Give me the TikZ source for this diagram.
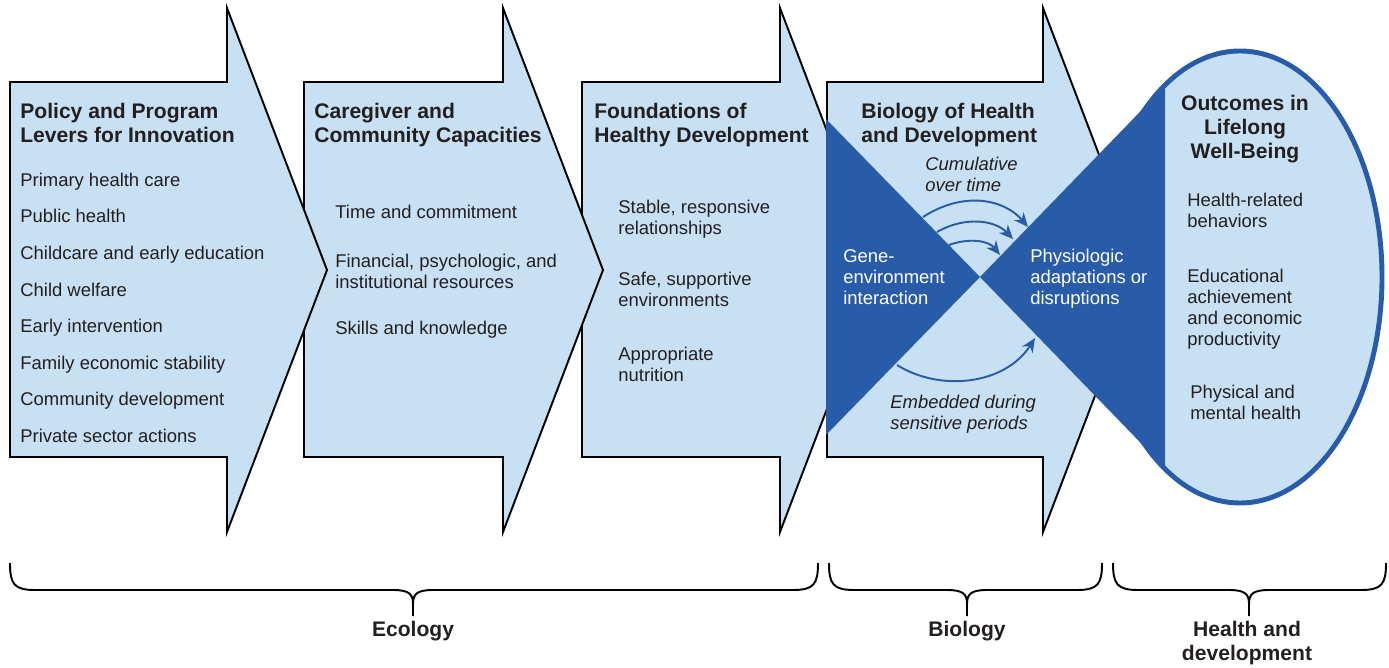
\documentclass[tikz,border=0pt]{standalone}
\usepackage{fontspec}
\setmainfont{Liberation Sans}
\usetikzlibrary{arrows.meta}
\definecolor{bioblue}{HTML}{285CA8}
\definecolor{biosoft}{HTML}{C8E0F3}
\definecolor{bioink}{HTML}{231F20}

\begin{document}
\begin{tikzpicture}[x=0.02cm, y=-0.02cm,
  chevron/.style={draw=black, fill=biosoft, line width=1.1pt},
  headtext/.style={anchor=north west, inner sep=0pt, align=left, text=bioink, font=\fontsize{12}{13.7}\selectfont\bfseries},
  itemtext/.style={anchor=north west, inner sep=0pt, align=left, text=bioink, font=\fontsize{10.5}{11.95}\selectfont},
  lineitem/.style={itemtext, anchor=base west},
  notetext/.style={itemtext, font=\fontsize{10.5}{11.95}\selectfont\itshape},
  wedgetext/.style={itemtext, text=white},
  curvearrow/.style={draw=bioblue, line width=1.1pt, -{Stealth[length=8pt, width=7pt, inset=2.5pt]}},
  bracepath/.style={draw=black, line width=1.1pt},
  bracelabel/.style={inner sep=0pt, align=center, text=bioink, font=\fontsize{12}{13.7}\selectfont\bfseries}]
  \useasboundingbox (0,0) rectangle (1389,668);

  % chevrons, drawn back to front
  \foreach \l/\h in {582/780, 827/1043, 304/503, 10/227}
    \draw[chevron] (\l,82) -- (\h,82) -- (\h,8) -- (\h+100,270) -- (\h,532) -- (\h,457) -- (\l,457) -- cycle;

  % bow tie and outcome ellipse
  \fill[bioblue] (826,119) -- (980,277) -- (826,435) -- cycle;
  \fill[biosoft] (1240,277) ellipse [x radius=142, y radius=226];
  \fill[bioblue] (980,277) -- (1165,86) -- (1165,468) -- cycle;
  \begin{scope}
    \clip (1240,277) ellipse [x radius=142, y radius=226];
    \fill[bioblue] (1090,40) rectangle (1165,520);
  \end{scope}
  \draw[bioblue, line width=2.8pt] (1240,277) ellipse [x radius=142, y radius=226];

  % column 1
  \node[headtext] (levers) at (20,103) {Policy and Program\\Levers for Innovation};
  \node[lineitem] (lev1) at (20,186.3) {Primary health care};
  \node[lineitem] (lev2) at (20,222.9) {Public health};
  \node[lineitem] (lev3) at (20,259.5) {Childcare and early education};
  \node[lineitem] (lev4) at (20,296.1) {Child welfare};
  \node[lineitem] (lev5) at (20,332.7) {Early intervention};
  \node[lineitem] (lev6) at (20,369.3) {Family economic stability};
  \node[lineitem] (lev7) at (20,405.9) {Community development};
  \node[lineitem] (lev8) at (20,442.5) {Private sector actions};

  % column 2
  \node[headtext] (care) at (314,103) {Caregiver and\\Community Capacities};
  \node[lineitem] (care1) at (335,218.3) {Time and commitment};
  \node[itemtext] (care2) at (335,253.3) {Financial, psychologic, and\\institutional resources};
  \node[lineitem] (care3) at (335,335) {Skills and knowledge};

  % column 3
  \node[headtext] (found) at (594,103) {Foundations of\\Healthy Development};
  \node[itemtext] (found1) at (618,200) {Stable, responsive\\relationships};
  \node[itemtext] (found2) at (618,271.7) {Safe, supportive\\environments};
  \node[itemtext] (found3) at (618,346.5) {Appropriate\\nutrition};

  % column 4
  \node[headtext] (bio) at (861,103) {Biology of Health\\and Development};
  \node[notetext] (cumul) at (925,157) {Cumulative\\over time};
  \node[notetext] (embed) at (890,395) {Embedded during\\sensitive periods};
  \node[wedgetext] (gene) at (843,249) {Gene-\\environment\\interaction};
  \node[wedgetext] (physio) at (1030,249) {Physiologic\\adaptations or\\disruptions};

  \coordinate (cumA) at (923,217);  \coordinate (cumB) at (1028,227);
  \coordinate (cumC) at (937,232);  \coordinate (cumD) at (1013,239);
  \coordinate (cumE) at (949,245);  \coordinate (cumF) at (1000,255);
  \coordinate (embA) at (897,365);  \coordinate (embB) at (1035,338);
  \draw[curvearrow] (cumA) .. controls (965,190) and (1005,200) .. (cumB);
  \draw[curvearrow] (cumC) .. controls (965,216) and (995,220) .. (cumD);
  \draw[curvearrow] (cumE) .. controls (968,238) and (988,240) .. (cumF);
  \draw[curvearrow] (embA) .. controls (940,392) and (1005,385) .. (embB);

  % column 5
  \node[bracelabel, anchor=north] (outc) at (1245,94.5) {Outcomes in\\Lifelong\\Well-Being};
  \node[itemtext] (outc1) at (1187,192.7) {Health-related\\behaviors};
  \node[itemtext] (outc2) at (1187,268.3) {Educational\\achievement\\and economic\\productivity};
  \node[itemtext] (outc3) at (1190,385) {Physical and\\mental health};

  % braces
  \foreach \a/\m/\b in {10/413/818, 829/967/1102, 1113/1249/1386}
    \draw[bracepath] (\a,563) .. controls (\a,584) and (\a+4,590) .. (\a+25,590) -- (\m-20,590)
      .. controls (\m-4,590) and (\m,594) .. (\m,604) -- (\m,616) -- (\m,604)
      .. controls (\m,594) and (\m+4,590) .. (\m+20,590) -- (\b-25,590)
      .. controls (\b-4,590) and (\b,584) .. (\b,563);
  \node[bracelabel] (ecol) at (413,631) {Ecology};
  \node[bracelabel] (biol) at (967,631) {Biology};
  \node[bracelabel] (hdev) at (1247,643) {Health and\\development};
\end{tikzpicture}
\end{document}
